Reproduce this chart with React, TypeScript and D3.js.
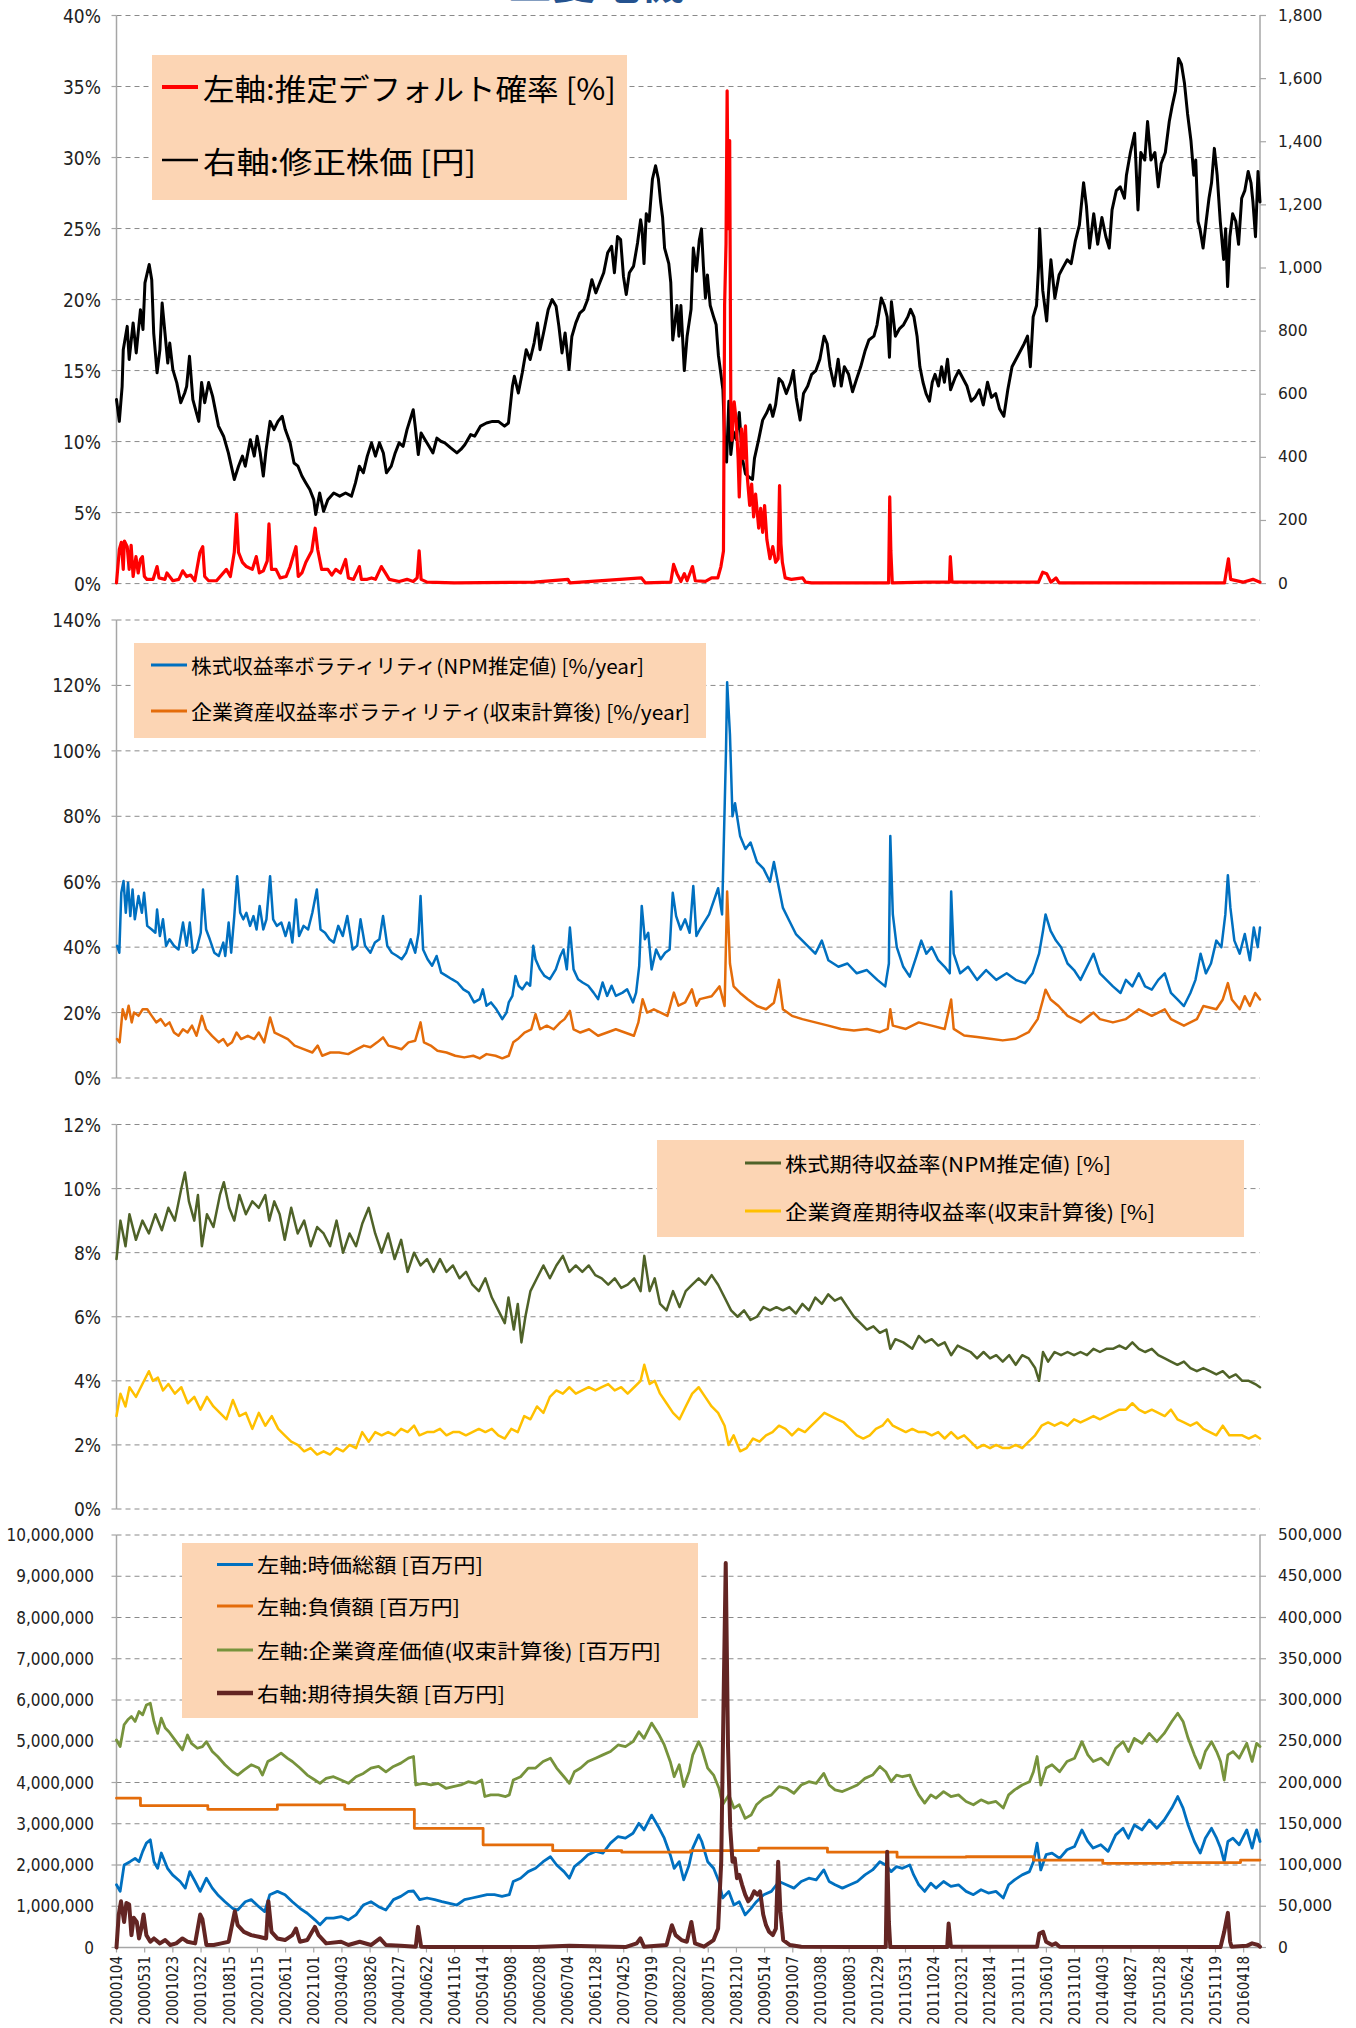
import React from 'react';
import * as d3 from 'd3';

type P = [number, number];

const tickLabels = ['20000104','20000531','20001023','20010322','20010815','20020115','20020611','20021101','20030403','20030826','20040127','20040622','20041116','20050414','20050908','20060208','20060704','20061128','20070425','20070919','20080220','20080715','20081210','20090514','20091007','20100308','20100803','20101229','20110531','20111024','20120321','20120814','20130111','20130610','20131101','20140403','20140827','20150128','20150624','20151119','20160418'];
const LAST_DAY = 4058;

// Panel 1: adjusted share price [yen] (right axis)
const sharePrice: P[] = [[0,583],[10,514],[20,625],[24,741],[38,815],[45,710],[59,826],[70,731],[85,868],[94,805],[101,953],[116,1011],[125,963],[132,794],[144,668],[154,741],[162,889],[172,794],[182,699],[189,762],[200,678],[214,636],[228,573],[242,604],[249,625],[259,720],[271,583],[292,514],[302,637],[313,573],[327,637],[341,594],[362,499],[380,467],[397,414],[418,330],[433,372],[447,404],[457,372],[475,456],[489,404],[499,467],[510,414],[521,341],[531,425],[545,514],[559,488],[573,514],[588,530],[599,488],[616,446],[630,382],[644,372],[658,341],[672,319],[686,298],[700,266],[707,219],[721,287],[735,229],[750,266],[771,287],[792,277],[813,287],[834,277],[848,319],[862,372],[876,351],[890,404],[905,446],[919,404],[933,446],[947,414],[958,351],[975,372],[989,414],[1003,446],[1017,435],[1031,488],[1053,551],[1060,499],[1071,409],[1081,477],[1095,456],[1109,435],[1123,414],[1137,461],[1151,451],[1165,446],[1186,430],[1208,414],[1222,425],[1236,440],[1257,472],[1271,467],[1292,499],[1313,509],[1334,514],[1355,514],[1377,499],[1391,509],[1405,625],[1412,657],[1426,604],[1440,668],[1454,741],[1468,710],[1482,762],[1494,826],[1503,741],[1518,805],[1532,868],[1546,900],[1560,879],[1570,815],[1581,731],[1592,794],[1606,678],[1616,783],[1630,826],[1644,857],[1658,868],[1672,900],[1687,963],[1701,921],[1715,953],[1729,985],[1743,1048],[1757,1069],[1767,985],[1778,1100],[1789,1090],[1799,974],[1809,916],[1820,985],[1835,1006],[1849,1079],[1860,1153],[1865,1124],[1872,1014],[1880,1172],[1890,1148],[1902,1282],[1913,1324],[1923,1282],[1931,1209],[1938,1160],[1945,1063],[1960,1014],[1967,954],[1974,772],[1989,881],[1996,784],[2003,881],[2015,675],[2025,784],[2039,869],[2047,1063],[2058,990],[2068,1087],[2076,1124],[2083,1002],[2090,905],[2097,978],[2107,881],[2119,845],[2128,820],[2136,723],[2145,663],[2152,614],[2158,457],[2165,385],[2173,578],[2180,409],[2189,481],[2199,457],[2210,542],[2221,397],[2232,348],[2247,336],[2257,330],[2264,397],[2279,457],[2293,518],[2308,542],[2319,566],[2329,530],[2339,566],[2351,650],[2363,638],[2377,602],[2392,638],[2402,675],[2412,590],[2426,518],[2438,602],[2453,626],[2467,663],[2482,675],[2496,711],[2511,784],[2522,760],[2532,687],[2547,626],[2561,711],[2572,626],[2583,687],[2598,663],[2612,608],[2627,650],[2641,687],[2656,736],[2670,772],[2688,784],[2699,820],[2714,905],[2725,881],[2735,845],[2743,717],[2750,893],[2764,784],[2779,808],[2793,820],[2808,845],[2818,869],[2830,845],[2841,784],[2851,687],[2862,638],[2873,602],[2885,578],[2895,638],[2905,663],[2917,626],[2928,687],[2938,638],[2949,711],[2960,614],[2975,650],[2989,675],[3004,650],[3018,626],[3033,578],[3047,590],[3062,614],[3076,566],[3091,638],[3105,590],[3120,602],[3134,553],[3149,530],[3163,614],[3178,687],[3192,711],[3207,736],[3221,760],[3233,784],[3243,687],[3253,845],[3265,881],[3272,1002],[3276,1124],[3287,929],[3301,832],[3308,929],[3316,1026],[3330,905],[3345,978],[3359,1002],[3374,1026],[3388,1014],[3403,1087],[3417,1136],[3432,1270],[3442,1197],[3453,1063],[3468,1172],[3482,1075],[3497,1160],[3511,1099],[3523,1063],[3533,1184],[3548,1245],[3562,1257],[3577,1221],[3584,1294],[3598,1366],[3613,1427],[3625,1184],[3635,1366],[3649,1342],[3659,1464],[3671,1342],[3685,1366],[3697,1257],[3707,1330],[3722,1366],[3736,1464],[3746,1512],[3758,1561],[3769,1664],[3779,1646],[3790,1585],[3801,1488],[3813,1403],[3823,1294],[3830,1342],[3838,1148],[3845,1124],[3856,1063],[3867,1148],[3877,1221],[3886,1270],[3896,1379],[3906,1294],[3917,1148],[3929,1027],[3936,1124],[3943,941],[3951,1099],[3961,1172],[3972,1148],[3982,1075],[3993,1221],[4004,1245],[4016,1306],[4026,1270],[4033,1209],[4042,1099],[4051,1306],[4058,1209]];

// Panel 1: estimated default probability [%] (left axis)
const defaultProb: P[] = [[0,0.05],[10,2.4],[17,2.9],[24,1.0],[28,3.0],[38,2.6],[45,1.0],[52,2.7],[59,0.5],[69,1.9],[77,0.75],[85,1.7],[92,1.9],[99,0.5],[108,0.3],[130,0.3],[144,1.2],[151,0.4],[172,0.3],[179,0.75],[200,0.2],[221,0.3],[235,0.9],[249,0.5],[263,0.6],[278,0.2],[296,2.2],[306,2.6],[313,0.5],[327,0.2],[355,0.2],[390,1.0],[404,0.5],[418,2.2],[426,4.9],[433,2.2],[447,1.5],[461,1.2],[482,1.0],[496,1.9],[507,0.75],[521,0.9],[535,1.6],[541,4.2],[550,1.0],[566,1.0],[581,0.4],[602,0.5],[616,1.2],[637,2.6],[645,0.5],[658,0.75],[672,1.5],[693,2.3],[705,3.9],[714,2.4],[728,1.0],[750,1.0],[764,0.6],[778,1.0],[795,0.75],[813,1.7],[823,0.4],[841,0.3],[862,1.2],[869,0.3],[890,0.3],[905,0.4],[919,0.3],[940,1.2],[954,0.75],[968,0.3],[1003,0.15],[1031,0.3],[1053,0.15],[1067,0.4],[1074,2.3],[1081,0.3],[1102,0.1],[1200,0.05],[1482,0.1],[1602,0.3],[1609,0.05],[1863,0.4],[1877,0.05],[1967,0.1],[1977,1.35],[1989,0.7],[2003,0.15],[2015,0.7],[2025,0.2],[2044,1.2],[2054,0.2],[2090,0.15],[2112,0.4],[2134,0.4],[2145,1.2],[2154,2.3],[2158,19.6],[2163,23.9],[2167,34.7],[2171,25],[2176,31.2],[2180,12.8],[2184,10.1],[2192,12.8],[2199,11.5],[2206,8.8],[2210,6.1],[2218,10.9],[2225,8.8],[2232,11.1],[2239,7.4],[2247,5.5],[2254,7.0],[2261,4.7],[2268,6.3],[2279,3.9],[2286,5.3],[2293,3.6],[2300,5.5],[2308,3.1],[2319,1.75],[2329,2.6],[2339,1.5],[2348,1.75],[2353,6.9],[2358,2.8],[2363,1.5],[2373,0.4],[2395,0.3],[2435,0.4],[2445,0.1],[2467,0.05],[2740,0.05],[2744,6.1],[2748,2.3],[2753,0.05],[2873,0.1],[2956,0.1],[2959,1.9],[2965,0.1],[3272,0.1],[3287,0.8],[3301,0.7],[3316,0.1],[3334,0.4],[3345,0.05],[3932,0.05],[3939,0.9],[3946,1.75],[3954,0.3],[3997,0.1],[4033,0.3],[4058,0.1]];

// Panel 2: volatilities [%/year]
const equityVol: P[] = [[2,40.4],[10,38.3],[17,56.6],[25,60.2],[33,50.5],[41,59.7],[49,49.5],[57,57.6],[65,48.5],[78,55.6],[90,50.5],[98,56.6],[109,46.5],[125,45.4],[138,44.4],[144,51.5],[154,43.4],[165,48.5],[176,40.4],[188,42.4],[204,40.4],[220,39.3],[236,47.5],[249,40.4],[260,47.5],[271,38.3],[284,39.3],[299,44.4],[307,57.6],[318,45.4],[331,42.4],[347,38.3],[363,37.3],[379,41.4],[386,37.3],[398,47.5],[407,38.3],[418,49.5],[428,61.7],[439,50.5],[450,48.5],[461,50.5],[474,46.5],[486,49.5],[497,45.4],[508,52.6],[521,45.4],[532,48.5],[545,61.7],[556,48.5],[569,46.5],[585,47.5],[600,43.4],[613,47.5],[624,41.4],[637,54.6],[648,43.4],[664,46.5],[680,45.4],[695,50.5],[711,57.6],[724,45.4],[740,44.4],[756,42.4],[771,41.4],[787,46.5],[803,43.4],[819,49.5],[838,39.3],[854,40.4],[866,48.5],[882,40.4],[901,38.3],[917,41.4],[933,42.4],[946,49.5],[961,40.4],[977,38.3],[996,37.3],[1012,36.3],[1028,38.3],[1044,42.4],[1060,38.3],[1072,44.4],[1079,55.6],[1088,39.3],[1104,36.3],[1120,34.3],[1136,37.3],[1152,32.2],[1171,31.2],[1190,30.2],[1210,29.2],[1231,27.1],[1250,26.1],[1269,23.1],[1289,24.1],[1300,27.1],[1313,22.1],[1329,23.1],[1348,21.0],[1369,18.0],[1384,20.0],[1392,23.1],[1405,25.1],[1416,31.2],[1427,28.2],[1440,27.1],[1456,29.2],[1468,28.2],[1479,40.4],[1487,36.3],[1503,33.2],[1519,31.2],[1538,30.2],[1559,33.2],[1575,37.3],[1586,39.3],[1598,33.2],[1609,46.0],[1622,33.2],[1638,30.2],[1654,29.2],[1674,28.2],[1693,26.1],[1709,24.1],[1725,29.2],[1741,25.1],[1757,28.2],[1772,25.1],[1796,26.1],[1812,27.1],[1833,23.1],[1844,26.1],[1855,34.3],[1864,52.6],[1875,42.4],[1887,44.4],[1899,33.2],[1915,39.3],[1931,36.3],[1947,38.3],[1963,39.3],[1974,56.6],[1986,49.5],[2002,45.4],[2018,48.5],[2034,44.4],[2047,58.7],[2058,43.4],[2070,45.4],[2103,50],[2135,58],[2149,50],[2163,100],[2167,121],[2177,105],[2186,80],[2195,84],[2213,74],[2232,70],[2250,72],[2273,66],[2296,64],[2319,60],[2333,66],[2351,58],[2365,52],[2388,48],[2411,44],[2434,42],[2457,40],[2480,38],[2503,42],[2526,36],[2562,34],[2594,35],[2627,32],[2663,33],[2700,30],[2728,28],[2741,35],[2746,74],[2755,50],[2769,40],[2792,34],[2815,31],[2838,37],[2856,42],[2874,38],[2893,40],[2916,36],[2939,34],[2957,32],[2962,57],[2971,38],[2994,32],[3022,34],[3054,30],[3086,33],[3122,30],[3159,32],[3191,30],[3224,29],[3251,32],[3274,38],[3288,45],[3297,50],[3315,45],[3334,42],[3352,40],[3375,35],[3398,33],[3421,30],[3444,34],[3467,38],[3490,32],[3513,30],[3536,28],[3563,26],[3582,30],[3605,28],[3628,32],[3650,28],[3674,27],[3697,30],[3720,32],[3742,26],[3765,24],[3788,22],[3811,26],[3829,30],[3847,38],[3866,32],[3884,35],[3903,42],[3921,40],[3935,50],[3944,62],[3953,52],[3967,42],[3986,38],[4004,44],[4022,36],[4036,46],[4050,40],[4058,46]];
const assetVol: P[] = [[2,11.9],[11,10.9],[22,21.0],[33,18.0],[43,22.1],[54,17.0],[62,20.0],[78,19.0],[93,21.0],[109,21.0],[125,19.0],[141,17.0],[157,18.0],[173,16.0],[188,17.0],[204,13.9],[220,12.9],[236,14.9],[252,13.9],[268,16.0],[284,12.9],[303,19.0],[318,14.9],[339,12.9],[363,10.9],[379,11.9],[394,9.9],[410,10.9],[426,13.9],[442,11.9],[466,12.9],[489,11.9],[505,13.9],[524,10.9],[545,18.5],[561,13.9],[585,12.9],[608,11.9],[632,9.9],[664,8.8],[695,7.8],[714,9.9],[730,6.8],[759,7.8],[790,7.8],[822,7.3],[854,8.8],[878,9.9],[901,9.4],[925,10.9],[946,12.4],[965,9.9],[988,9.4],[1012,8.8],[1036,10.9],[1060,11.4],[1079,17.0],[1091,10.9],[1115,9.9],[1139,8.3],[1171,7.8],[1202,6.8],[1234,6.3],[1266,6.8],[1289,6.0],[1313,7.3],[1345,6.8],[1369,6.0],[1392,6.8],[1408,10.9],[1424,11.9],[1448,13.9],[1472,14.9],[1487,19.5],[1503,14.9],[1527,16.0],[1551,14.9],[1575,17.0],[1590,18.0],[1609,20.5],[1622,14.9],[1646,13.9],[1677,14.9],[1709,12.9],[1741,13.9],[1772,14.9],[1804,13.9],[1836,12.9],[1852,17.0],[1867,24.1],[1883,20.0],[1907,21.0],[1931,20.0],[1955,19.0],[1978,26.1],[1994,22.1],[2018,23.1],[2042,27.1],[2058,22.1],[2070,24.1],[2112,25],[2140,28],[2158,22],[2167,57],[2177,35],[2190,28],[2213,26],[2241,24],[2273,22],[2305,21],[2333,23],[2351,30],[2365,21],[2397,19],[2434,18],[2480,17],[2526,16],[2571,15],[2617,14.5],[2663,15],[2709,14],[2737,15],[2746,21],[2755,16],[2801,15],[2847,17],[2893,16],[2939,15],[2962,24],[2971,15],[3008,13],[3054,12.5],[3100,12],[3145,11.5],[3191,12],[3237,14],[3269,18],[3288,24],[3297,27],[3315,24],[3343,22],[3375,19],[3421,17],[3467,20],[3490,18],[3536,17],[3582,18],[3628,21],[3674,19],[3720,21],[3742,18],[3788,16],[3834,18],[3857,22],[3903,21],[3926,24],[3944,29],[3958,24],[3986,21],[4004,25],[4022,22],[4041,26],[4058,24]];

// Panel 3: expected returns [%]
const equityReturn: P[] = [[0,7.8],[14,9.0],[32,8.2],[46,9.2],[69,8.4],[92,9.0],[115,8.6],[138,9.2],[161,8.7],[184,9.4],[207,9.0],[230,10.0],[243,10.5],[257,9.6],[276,9.0],[289,9.8],[303,8.2],[321,9.2],[344,8.8],[367,9.8],[381,10.2],[400,9.4],[418,9.0],[436,9.8],[459,9.2],[482,9.6],[505,9.4],[528,9.8],[542,9.0],[560,9.6],[579,9.2],[597,8.4],[620,9.4],[643,8.6],[666,9.0],[689,8.2],[712,8.8],[735,8.6],[758,8.2],[781,9.0],[804,8.0],[827,8.6],[850,8.2],[872,8.9],[895,9.4],[918,8.6],[941,8.0],[964,8.6],[987,7.8],[1010,8.4],[1033,7.4],[1056,8.0],[1079,7.6],[1102,7.8],[1125,7.4],[1148,7.8],[1171,7.4],[1194,7.6],[1217,7.2],[1240,7.4],[1263,7.0],[1286,6.8],[1309,7.2],[1332,6.6],[1355,6.2],[1378,5.8],[1391,6.6],[1410,5.6],[1424,6.4],[1437,5.2],[1451,6.0],[1469,6.8],[1492,7.2],[1515,7.6],[1538,7.2],[1561,7.6],[1584,7.9],[1607,7.4],[1630,7.6],[1653,7.4],[1676,7.6],[1699,7.3],[1722,7.2],[1745,7.0],[1768,7.2],[1791,6.9],[1814,7.0],[1837,7.2],[1860,6.8],[1873,7.9],[1892,6.8],[1910,7.2],[1929,6.4],[1952,6.2],[1975,6.8],[1998,6.3],[2020,6.8],[2043,7.0],[2066,7.2],[2089,7.0],[2112,7.3],[2135,7.0],[2158,6.6],[2181,6.2],[2204,6.0],[2227,6.2],[2250,5.9],[2273,6.0],[2296,6.3],[2319,6.2],[2342,6.3],[2365,6.2],[2388,6.3],[2411,6.1],[2434,6.4],[2457,6.2],[2480,6.6],[2503,6.4],[2526,6.7],[2549,6.5],[2571,6.6],[2594,6.3],[2617,6.0],[2640,5.8],[2663,5.6],[2686,5.7],[2709,5.5],[2732,5.6],[2746,5.0],[2764,5.3],[2792,5.2],[2824,5.0],[2847,5.4],[2870,5.2],[2893,5.3],[2916,5.1],[2939,5.2],[2962,4.8],[2985,5.1],[3008,5.0],[3031,4.9],[3054,4.7],[3077,4.9],[3100,4.7],[3122,4.8],[3145,4.6],[3168,4.8],[3191,4.5],[3214,4.8],[3237,4.7],[3260,4.4],[3274,4.0],[3288,4.9],[3306,4.6],[3329,4.9],[3352,4.8],[3375,4.9],[3398,4.8],[3421,4.9],[3444,4.8],[3467,5.0],[3490,4.9],[3513,5.0],[3536,5.0],[3559,5.1],[3582,5.0],[3605,5.2],[3628,5.0],[3650,4.9],[3674,5.0],[3697,4.8],[3720,4.7],[3742,4.6],[3765,4.5],[3788,4.6],[3811,4.4],[3834,4.3],[3857,4.4],[3880,4.3],[3903,4.2],[3926,4.3],[3949,4.1],[3972,4.2],[3995,4.0],[4018,4.0],[4041,3.9],[4058,3.8]];
const assetReturn: P[] = [[0,2.9],[14,3.6],[32,3.2],[46,3.8],[69,3.5],[92,3.9],[115,4.3],[129,4.0],[147,4.1],[165,3.7],[184,3.9],[207,3.6],[230,3.8],[253,3.3],[276,3.5],[298,3.1],[321,3.5],[344,3.2],[367,3.0],[390,2.8],[413,3.4],[436,2.9],[459,3.0],[482,2.5],[505,3.0],[528,2.6],[551,2.9],[574,2.5],[597,2.3],[620,2.1],[643,2.0],[666,1.8],[689,1.9],[712,1.7],[735,1.8],[758,1.7],[781,1.9],[804,1.8],[827,2.0],[850,1.9],[872,2.4],[895,2.1],[918,2.4],[941,2.3],[964,2.4],[987,2.3],[1010,2.5],[1033,2.4],[1056,2.6],[1075,2.3],[1102,2.4],[1125,2.4],[1148,2.5],[1171,2.3],[1194,2.4],[1217,2.4],[1240,2.3],[1263,2.4],[1286,2.5],[1309,2.4],[1332,2.5],[1355,2.3],[1378,2.2],[1401,2.5],[1424,2.4],[1447,2.9],[1469,2.8],[1492,3.2],[1515,3.0],[1538,3.5],[1561,3.7],[1584,3.6],[1607,3.8],[1630,3.6],[1653,3.7],[1676,3.8],[1699,3.7],[1722,3.8],[1745,3.9],[1768,3.7],[1791,3.8],[1814,3.6],[1837,3.8],[1860,4.0],[1873,4.5],[1892,3.9],[1910,4.0],[1929,3.6],[1952,3.3],[1975,3.0],[1998,2.8],[2020,3.2],[2043,3.6],[2066,3.8],[2089,3.5],[2112,3.2],[2135,3.0],[2158,2.6],[2172,2.0],[2190,2.3],[2213,1.8],[2236,1.9],[2259,2.2],[2282,2.1],[2305,2.3],[2328,2.4],[2351,2.6],[2374,2.5],[2397,2.3],[2420,2.5],[2443,2.4],[2466,2.6],[2489,2.8],[2512,3.0],[2535,2.9],[2558,2.8],[2581,2.7],[2604,2.5],[2627,2.3],[2650,2.2],[2673,2.3],[2695,2.5],[2718,2.6],[2737,2.8],[2755,2.6],[2778,2.5],[2801,2.4],[2824,2.5],[2847,2.4],[2870,2.4],[2893,2.3],[2916,2.4],[2939,2.2],[2962,2.4],[2985,2.2],[3008,2.3],[3031,2.1],[3054,1.9],[3077,2.0],[3100,1.9],[3122,2.0],[3145,1.9],[3168,1.9],[3191,2.0],[3214,1.9],[3237,2.1],[3260,2.3],[3283,2.6],[3306,2.7],[3329,2.6],[3352,2.7],[3375,2.6],[3398,2.8],[3421,2.7],[3444,2.8],[3467,2.9],[3490,2.8],[3513,2.9],[3536,3.0],[3559,3.1],[3582,3.1],[3605,3.3],[3628,3.1],[3650,3.0],[3674,3.1],[3697,3.0],[3720,2.9],[3742,3.1],[3765,2.8],[3788,2.7],[3811,2.6],[3834,2.7],[3857,2.5],[3880,2.4],[3903,2.3],[3926,2.6],[3949,2.3],[3972,2.3],[3995,2.3],[4018,2.2],[4041,2.3],[4058,2.2]];

// Panel 4: amounts [million yen]
const marketCap: P[] = [[0,1520000],[13,1360000],[27,2000000],[48,2080000],[66,2160000],[80,2080000],[93,2330000],[106,2530000],[120,2610000],[133,2080000],[146,1920000],[159,2290000],[181,1920000],[199,1760000],[226,1600000],[244,1440000],[260,1840000],[279,1600000],[297,1360000],[319,1680000],[340,1440000],[359,1280000],[385,1110000],[412,950000],[430,910000],[457,1110000],[478,1160000],[505,990000],[526,870000],[544,1280000],[571,1360000],[598,1280000],[624,1110000],[651,950000],[677,830000],[704,670000],[722,550000],[744,710000],[770,710000],[797,750000],[823,670000],[850,790000],[876,1030000],[903,1110000],[930,990000],[956,910000],[983,1160000],[1009,1240000],[1036,1360000],[1054,1370000],[1076,1160000],[1102,1200000],[1129,1160000],[1155,1110000],[1182,1070000],[1208,1030000],[1235,1160000],[1262,1200000],[1288,1240000],[1315,1280000],[1341,1280000],[1368,1240000],[1394,1280000],[1408,1600000],[1434,1680000],[1461,1840000],[1487,1920000],[1514,2080000],[1540,2200000],[1562,2000000],[1588,1840000],[1607,1680000],[1625,1960000],[1647,2080000],[1673,2250000],[1700,2330000],[1726,2290000],[1753,2530000],[1780,2690000],[1806,2650000],[1833,2770000],[1854,3010000],[1872,2850000],[1899,3210000],[1926,2890000],[1944,2650000],[1965,2250000],[1979,1920000],[1997,2080000],[2013,1640000],[2032,2000000],[2045,2410000],[2066,2730000],[2077,2570000],[2098,2080000],[2119,1920000],[2138,1600000],[2151,1200000],[2173,1360000],[2191,1030000],[2210,1110000],[2231,790000],[2252,950000],[2271,1110000],[2297,1280000],[2324,1360000],[2351,1600000],[2377,1520000],[2404,1440000],[2430,1600000],[2457,1680000],[2483,1640000],[2510,1880000],[2529,1600000],[2550,1520000],[2576,1440000],[2603,1520000],[2629,1600000],[2656,1760000],[2683,1880000],[2709,2080000],[2730,2000000],[2749,1840000],[2768,1960000],[2789,1920000],[2815,2000000],[2829,1760000],[2847,1520000],[2868,1360000],[2890,1560000],[2908,1440000],[2935,1600000],[2961,1480000],[2988,1520000],[3015,1360000],[3041,1280000],[3068,1400000],[3094,1320000],[3121,1360000],[3147,1200000],[3166,1520000],[3187,1640000],[3214,1760000],[3240,1840000],[3254,2080000],[3267,2530000],[3280,1880000],[3299,2250000],[3320,2290000],[3347,2160000],[3373,2370000],[3400,2450000],[3426,2850000],[3447,2570000],[3466,2410000],[3493,2490000],[3519,2330000],[3546,2730000],[3572,2890000],[3591,2650000],[3612,2970000],[3639,2850000],[3665,3090000],[3692,2890000],[3718,3090000],[3745,3380000],[3766,3660000],[3785,3380000],[3803,2970000],[3825,2570000],[3846,2290000],[3864,2650000],[3886,2890000],[3904,2650000],[3918,2410000],[3931,2080000],[3944,2570000],[3962,2650000],[3984,2490000],[4011,2850000],[4030,2410000],[4046,2850000],[4058,2570000]];
const debtSteps: P[] = [[0,3620000],[85,3440000],[324,3350000],[571,3460000],[810,3350000],[1057,2890000],[1301,2490000],[1548,2350000],[1793,2310000],[2037,2350000],[2279,2410000],[2523,2310000],[2770,2190000],[3015,2200000],[3254,2120000],[3500,2040000],[3745,2060000],[3989,2120000],[4058,2120000]];
const assetValue: P[] = [[0,5030000],[13,4870000],[27,5400000],[40,5520000],[53,5600000],[66,5480000],[80,5720000],[93,5640000],[106,5880000],[120,5920000],[133,5480000],[146,5190000],[159,5560000],[173,5320000],[186,5230000],[212,4990000],[234,4790000],[252,5150000],[266,4950000],[287,4830000],[305,4870000],[319,4990000],[340,4750000],[359,4630000],[385,4430000],[412,4260000],[430,4180000],[452,4300000],[478,4430000],[505,4350000],[518,4180000],[537,4510000],[558,4590000],[584,4710000],[606,4590000],[624,4510000],[651,4350000],[677,4180000],[704,4060000],[722,3980000],[744,4100000],[770,4140000],[797,4060000],[823,3980000],[850,4140000],[876,4220000],[903,4350000],[930,4390000],[956,4260000],[983,4390000],[1009,4470000],[1036,4590000],[1054,4630000],[1062,3940000],[1089,3980000],[1116,3940000],[1142,3980000],[1169,3860000],[1195,3900000],[1222,3940000],[1248,4020000],[1275,3980000],[1296,4060000],[1307,3660000],[1328,3700000],[1355,3700000],[1381,3660000],[1394,3700000],[1408,4060000],[1434,4140000],[1461,4350000],[1487,4350000],[1514,4510000],[1540,4590000],[1562,4350000],[1588,4140000],[1607,3980000],[1625,4260000],[1647,4350000],[1673,4510000],[1700,4590000],[1726,4670000],[1753,4750000],[1780,4910000],[1806,4870000],[1833,4990000],[1854,5230000],[1872,5070000],[1899,5440000],[1926,5150000],[1944,4910000],[1965,4510000],[1979,4140000],[1997,4430000],[2013,3900000],[2032,4260000],[2045,4670000],[2066,4990000],[2077,4830000],[2098,4350000],[2119,4180000],[2138,3860000],[2151,3460000],[2173,3700000],[2191,3380000],[2210,3460000],[2231,3130000],[2252,3210000],[2271,3460000],[2297,3620000],[2324,3700000],[2351,3900000],[2377,3860000],[2404,3740000],[2430,3940000],[2457,4020000],[2483,3980000],[2510,4220000],[2529,3940000],[2550,3820000],[2576,3780000],[2603,3860000],[2629,3940000],[2656,4100000],[2683,4180000],[2709,4390000],[2730,4260000],[2749,4020000],[2768,4180000],[2789,4140000],[2815,4180000],[2829,3940000],[2847,3700000],[2868,3500000],[2890,3700000],[2908,3620000],[2935,3780000],[2961,3660000],[2988,3700000],[3015,3540000],[3041,3460000],[3068,3580000],[3094,3500000],[3121,3540000],[3147,3380000],[3166,3700000],[3187,3820000],[3214,3940000],[3240,4020000],[3254,4260000],[3267,4630000],[3280,3940000],[3299,4350000],[3320,4430000],[3347,4260000],[3373,4510000],[3400,4590000],[3426,4990000],[3447,4670000],[3466,4510000],[3493,4590000],[3519,4430000],[3546,4830000],[3572,4990000],[3591,4750000],[3612,5070000],[3639,4950000],[3665,5190000],[3692,4990000],[3718,5190000],[3745,5480000],[3766,5680000],[3785,5480000],[3803,5070000],[3825,4670000],[3846,4350000],[3864,4750000],[3886,4990000],[3904,4750000],[3918,4510000],[3931,4060000],[3944,4670000],[3962,4750000],[3984,4590000],[4011,4950000],[4030,4510000],[4046,4950000],[4058,4870000]];
const expectedLoss: P[] = [[0,0],[8,40000],[16,56000],[27,31000],[35,54000],[45,52000],[53,15000],[61,36000],[72,31000],[80,11000],[88,23000],[96,40000],[106,15000],[120,7000],[133,11000],[154,5000],[173,9000],[191,3000],[212,5000],[234,11000],[252,7000],[279,5000],[297,40000],[305,34000],[319,3000],[345,3000],[372,5000],[398,7000],[420,44000],[430,27000],[452,19000],[478,15000],[505,13000],[531,11000],[539,56000],[550,19000],[571,11000],[598,9000],[624,15000],[637,23000],[651,7000],[677,9000],[704,25000],[717,15000],[744,5000],[797,7000],[823,3000],[863,7000],[903,3000],[935,11000],[956,3000],[1009,2000],[1062,1000],[1070,25000],[1081,1000],[1116,500],[1487,500],[1607,2000],[1806,500],[1846,5000],[1859,11000],[1872,1000],[1952,3000],[1971,27000],[1984,15000],[2005,9000],[2024,7000],[2040,31000],[2053,5000],[2085,1000],[2119,9000],[2135,23000],[2146,104000],[2154,290000],[2162,466000],[2170,246000],[2178,145000],[2186,104000],[2194,108000],[2202,84000],[2210,88000],[2220,76000],[2231,64000],[2242,56000],[2252,60000],[2263,68000],[2274,64000],[2284,68000],[2295,40000],[2305,27000],[2316,19000],[2329,15000],[2340,23000],[2348,104000],[2356,44000],[2366,9000],[2390,3000],[2430,1000],[2603,500],[2730,500],[2735,116000],[2741,31000],[2746,500],[2948,500],[2953,29000],[2961,1000],[3267,1000],[3275,17000],[3288,19000],[3299,7000],[3320,3000],[3333,5000],[3347,1000],[3918,500],[3931,19000],[3944,42000],[3952,7000],[3957,1000],[4011,2000],[4030,5000],[4051,3000],[4058,1000]];

const pctTicks1 = [0, 5, 10, 15, 20, 25, 30, 35, 40];
const priceTicks = [0, 200, 400, 600, 800, 1000, 1200, 1400, 1600, 1800];
const pctTicks2 = [0, 20, 40, 60, 80, 100, 120, 140];
const pctTicks3 = [0, 2, 4, 6, 8, 10, 12];
const amountTicks = [0, 1e6, 2e6, 3e6, 4e6, 5e6, 6e6, 7e6, 8e6, 9e6, 1e7];
const lossTicks = [0, 5e4, 1e5, 1.5e5, 2e5, 2.5e5, 3e5, 3.5e5, 4e5, 4.5e5, 5e5];

const X0 = 116.5, X1 = 1260;
const GRID = '#8a8a8a';
const AXIS = '#a6a6a6';
const NUM_FONT = "'Liberation Sans Narrow', 'DejaVu Sans Condensed', 'Liberation Sans', sans-serif";
const COND_FONT = "'DejaVu Sans Condensed', 'DejaVu Sans', sans-serif";
const RIGHT_FONT = "'DejaVu Sans', Verdana, sans-serif";
const JP_FONT = "'Noto Sans CJK JP', 'Noto Sans', sans-serif";
const LEGEND_BG = '#FCD5B4';

const fmtComma = d3.format(',');

function Grid({ y, ticks }: { y: d3.ScaleLinear<number, number>; ticks: number[] }) {
  return (
    <g>
      {ticks.map((t) => (
        <line key={t} x1={X0} x2={X1} y1={y(t)} y2={y(t)} stroke={GRID} strokeWidth={1} strokeDasharray="5,4" />
      ))}
    </g>
  );
}

function LeftAxis({ y, ticks, fmt, labelX, fontSize }: { y: d3.ScaleLinear<number, number>; ticks: number[]; fmt: (v: number) => string; labelX: number; fontSize: number }) {
  const [r0, r1] = y.range();
  return (
    <g>
      <line x1={X0} x2={X0} y1={r0} y2={r1} stroke={AXIS} strokeWidth={1.5} />
      {ticks.map((t) => (
        <g key={t}>
          <line x1={X0 - 5} x2={X0} y1={y(t)} y2={y(t)} stroke={AXIS} strokeWidth={1.2} />
          <text x={labelX} y={y(t)} textAnchor="end" dominantBaseline="central" fontFamily={NUM_FONT} fontSize={fontSize} fill="#222">{fmt(t)}</text>
        </g>
      ))}
    </g>
  );
}

function RightAxis({ y, ticks, fmt }: { y: d3.ScaleLinear<number, number>; ticks: number[]; fmt: (v: number) => string }) {
  const [r0, r1] = y.range();
  return (
    <g>
      <line x1={X1} x2={X1} y1={r0} y2={r1} stroke={AXIS} strokeWidth={1.5} />
      {ticks.map((t) => (
        <g key={t}>
          <line x1={X1} x2={X1 + 6} y1={y(t)} y2={y(t)} stroke={AXIS} strokeWidth={1.2} />
          <text x={X1 + 18} y={y(t)} textAnchor="start" dominantBaseline="central" fontFamily={RIGHT_FONT} fontSize={15.5} fill="#222">{fmt(t)}</text>
        </g>
      ))}
    </g>
  );
}

type LegendItem = { label: string; color: string; width: number; y: number; len: number };
function Legend({ box, items, sx0, sx1, tx, fontSize }: { box: [number, number, number, number]; items: LegendItem[]; sx0: number; sx1: number; tx: number; fontSize: number }) {
  return (
    <g>
      <rect x={box[0]} y={box[1]} width={box[2] - box[0]} height={box[3] - box[1]} fill={LEGEND_BG} />
      {items.map((it) => (
        <g key={it.label}>
          <line x1={sx0} x2={sx1} y1={it.y} y2={it.y} stroke={it.color} strokeWidth={it.width} />
          <text x={tx} y={it.y} dominantBaseline="central" fontFamily={JP_FONT} fontSize={fontSize} fill="#000" textLength={it.len} lengthAdjust="spacingAndGlyphs">{it.label}</text>
        </g>
      ))}
    </g>
  );
}

export default function App() {
  const x = d3.scaleLinear().domain([0, LAST_DAY]).range([X0, X1]);

  const y1L = d3.scaleLinear().domain([0, 40]).range([583.6, 15.5]);
  const y1R = d3.scaleLinear().domain([0, 1800]).range([583.6, 15.5]);
  const y2 = d3.scaleLinear().domain([0, 140]).range([1078, 620]);
  const y3 = d3.scaleLinear().domain([0, 12]).range([1509, 1124.5]);
  const y4L = d3.scaleLinear().domain([0, 1e7]).range([1947.5, 1535]);
  const y4R = d3.scaleLinear().domain([0, 5e5]).range([1947.5, 1535]);

  const mk = (y: d3.ScaleLinear<number, number>, curve: d3.CurveFactory = d3.curveLinear) =>
    d3.line<P>().x((d) => x(d[0])).y((d) => y(d[1])).curve(curve);

  const pathProps = { fill: 'none', strokeLinejoin: 'round' as const, strokeLinecap: 'round' as const };

  return (
    <svg width={1356} height={2028} viewBox="0 0 1356 2028" style={{ position: 'absolute', left: 0, top: 0, background: '#fff', display: 'block' }}>
      <rect x={0} y={0} width={1356} height={2028} fill="#fff" />
      <text x={596} y={-1} textAnchor="middle" fontFamily={JP_FONT} fontWeight={700} fontSize={44} fill="#24528f">三菱電機</text>

      {/* Panel 1 */}
      <Grid y={y1L} ticks={pctTicks1} />
      <Legend box={[152, 55, 627, 200]} sx0={162} sx1={198} tx={203} fontSize={30}
        items={[
          { label: '左軸:推定デフォルト確率 [%]', color: '#FF0000', width: 4, y: 87, len: 413 },
          { label: '右軸:修正株価 [円]', color: '#000000', width: 2.5, y: 160, len: 273 },
        ]} />
      <LeftAxis y={y1L} ticks={pctTicks1} fmt={(v) => `${v}%`} labelX={101} fontSize={19} />
      <RightAxis y={y1R} ticks={priceTicks} fmt={fmtComma} />
      <path d={mk(y1R)(sharePrice) || ''} stroke="#000" strokeWidth={3} {...pathProps} />
      <path d={mk(y1L)(defaultProb) || ''} stroke="#FF0000" strokeWidth={3.2} {...pathProps} />

      {/* Panel 2 */}
      <Grid y={y2} ticks={pctTicks2} />
      <Legend box={[134, 643, 706, 738]} sx0={151} sx1={187} tx={191} fontSize={20}
        items={[
          { label: '株式収益率ボラティリティ(NPM推定値) [%/year]', color: '#0070C0', width: 3, y: 665, len: 453 },
          { label: '企業資産収益率ボラティリティ(収束計算後) [%/year]', color: '#E46C0A', width: 3, y: 711, len: 499 },
        ]} />
      <LeftAxis y={y2} ticks={pctTicks2} fmt={(v) => `${v}%`} labelX={101} fontSize={19} />
      <path d={mk(y2)(equityVol) || ''} stroke="#0070C0" strokeWidth={2.5} {...pathProps} />
      <path d={mk(y2)(assetVol) || ''} stroke="#E46C0A" strokeWidth={2.5} {...pathProps} />

      {/* Panel 3 */}
      <Grid y={y3} ticks={pctTicks3} />
      <Legend box={[657, 1140, 1244, 1237]} sx0={745} sx1={781} tx={785} fontSize={20}
        items={[
          { label: '株式期待収益率(NPM推定値) [%]', color: '#4F6228', width: 3, y: 1163, len: 326 },
          { label: '企業資産期待収益率(収束計算後) [%]', color: '#FFC000', width: 3, y: 1211, len: 370 },
        ]} />
      <LeftAxis y={y3} ticks={pctTicks3} fmt={(v) => `${v}%`} labelX={101} fontSize={19} />
      <path d={mk(y3)(equityReturn) || ''} stroke="#4F6228" strokeWidth={2.5} {...pathProps} />
      <path d={mk(y3)(assetReturn) || ''} stroke="#FFC000" strokeWidth={2.5} {...pathProps} />

      {/* Panel 4 */}
      <Grid y={y4L} ticks={amountTicks.slice(1)} />
      <Legend box={[182, 1543, 698, 1718]} sx0={217} sx1={253} tx={257} fontSize={20}
        items={[
          { label: '左軸:時価総額 [百万円]', color: '#0070C0', width: 3, y: 1564.5, len: 226 },
          { label: '左軸:負債額 [百万円]', color: '#E46C0A', width: 3, y: 1606, len: 203 },
          { label: '左軸:企業資産価値(収束計算後) [百万円]', color: '#77933C', width: 3, y: 1650, len: 404 },
          { label: '右軸:期待損失額 [百万円]', color: '#632523', width: 4.5, y: 1693, len: 248 },
        ]} />
      <LeftAxis y={y4L} ticks={amountTicks} fmt={fmtComma} labelX={94} fontSize={17} />
      <RightAxis y={y4R} ticks={lossTicks} fmt={fmtComma} />
      <line x1={X0} x2={X1} y1={y4L(0)} y2={y4L(0)} stroke={AXIS} strokeWidth={1.5} />
      {tickLabels.map((lab, i) => {
        const px = x(i * 100);
        return (
          <g key={lab}>
            <line x1={px} x2={px} y1={y4L(0)} y2={y4L(0) + 5} stroke={AXIS} strokeWidth={1.2} />
            <text transform={`translate(${px},1956) rotate(-90)`} textAnchor="end" dy="0.36em" fontFamily={COND_FONT} fontSize={15} fill="#222">{lab}</text>
          </g>
        );
      })}
      <path d={mk(y4L)(marketCap) || ''} stroke="#0070C0" strokeWidth={2.8} {...pathProps} />
      <path d={mk(y4L, d3.curveStepAfter)(debtSteps) || ''} stroke="#E46C0A" strokeWidth={2.8} {...pathProps} />
      <path d={mk(y4L)(assetValue) || ''} stroke="#77933C" strokeWidth={2.8} {...pathProps} />
      <path d={mk(y4R)(expectedLoss) || ''} stroke="#632523" strokeWidth={4} {...pathProps} />
    </svg>
  );
}
